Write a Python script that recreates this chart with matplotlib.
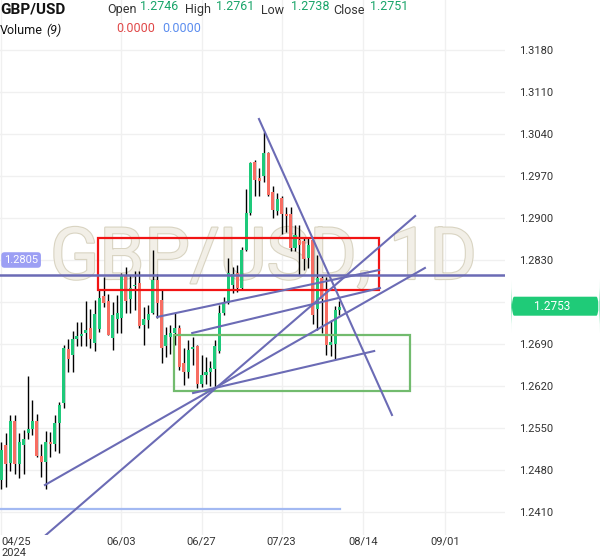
import matplotlib
matplotlib.use("Agg")
import matplotlib.pyplot as plt
import matplotlib.patheffects as pe
from matplotlib.patches import Rectangle, FancyBboxPatch

plt.rcParams['font.family'] = ['Roboto', 'DejaVu Sans']

# GBP/USD daily candles, 2024-04-25 .. 2024-08-09 (index = trading day)
opens = [1.2464, 1.2522, 1.2491, 1.2561, 1.2490, 1.2522, 1.2541, 1.2548, 1.2562, 1.2503,
         1.2494, 1.2526, 1.2524, 1.2559, 1.2592, 1.2681, 1.2671, 1.2699, 1.2704, 1.2708,
         1.2716, 1.2692, 1.2715, 1.2770, 1.2762, 1.2700, 1.2731, 1.2733, 1.2805, 1.2765,
         1.2786, 1.2791, 1.2722, 1.2730, 1.2741, 1.2797, 1.2763, 1.2686, 1.2701, 1.2708,
         1.2716, 1.2658, 1.2644, 1.2681, 1.2686, 1.2624, 1.2638, 1.2644, 1.2648, 1.2678,
         1.2741, 1.2759, 1.2788, 1.2809, 1.2783, 1.2847, 1.2909, 1.2994, 1.2967, 1.2970,
         1.3008, 1.2944, 1.2911, 1.2934, 1.2906, 1.2906, 1.2850, 1.2863, 1.2862, 1.2833,
         1.2863, 1.2748, 1.2800, 1.2780, 1.2688, 1.2690, 1.2746]
highs = [1.2527, 1.2541, 1.2572, 1.2572, 1.2541, 1.2547, 1.2637, 1.2597, 1.2574, 1.2524,
         1.2545, 1.2544, 1.2572, 1.2594, 1.2688, 1.2699, 1.2711, 1.2727, 1.2727, 1.2762,
         1.2749, 1.2763, 1.2781, 1.2802, 1.2774, 1.2760, 1.2772, 1.2809, 1.2818, 1.2805,
         1.2811, 1.2811, 1.2752, 1.2755, 1.2847, 1.2807, 1.2780, 1.2719, 1.2722, 1.2741,
         1.2722, 1.2683, 1.2697, 1.2701, 1.2688, 1.2672, 1.2669, 1.2662, 1.2697, 1.2755,
         1.2769, 1.2833, 1.2819, 1.2822, 1.2852, 1.2948, 1.2994, 1.2996, 1.2983, 1.3044,
         1.3010, 1.2953, 1.2942, 1.2936, 1.2918, 1.2918, 1.2888, 1.2888, 1.2866, 1.2866,
         1.2863, 1.2838, 1.2805, 1.2802, 1.2730, 1.2754, 1.2761]
lows = [1.2449, 1.2452, 1.2479, 1.2474, 1.2466, 1.2474, 1.2532, 1.2538, 1.2502, 1.2469,
        1.2448, 1.2502, 1.2511, 1.2509, 1.2583, 1.2644, 1.2644, 1.2686, 1.2687, 1.2686,
        1.2683, 1.2679, 1.2710, 1.2752, 1.2705, 1.2680, 1.2708, 1.2709, 1.2741, 1.2741,
        1.2747, 1.2716, 1.2689, 1.2716, 1.2740, 1.2733, 1.2658, 1.2669, 1.2674, 1.2688,
        1.2647, 1.2622, 1.2633, 1.2655, 1.2616, 1.2619, 1.2624, 1.2620, 1.2619, 1.2675,
        1.2738, 1.2757, 1.2775, 1.2777, 1.2780, 1.2845, 1.2905, 1.2936, 1.2937, 1.2960,
        1.2937, 1.2900, 1.2905, 1.2874, 1.2876, 1.2845, 1.2845, 1.2805, 1.2814, 1.2816,
        1.2724, 1.2713, 1.2708, 1.2672, 1.2670, 1.2665, 1.2738]
closes = [1.2514, 1.2490, 1.2561, 1.2490, 1.2527, 1.2532, 1.2548, 1.2562, 1.2503, 1.2494,
          1.2527, 1.2523, 1.2559, 1.2589, 1.2684, 1.2665, 1.2698, 1.2704, 1.2707, 1.2714,
          1.2698, 1.2740, 1.2766, 1.2759, 1.2705, 1.2738, 1.2741, 1.2805, 1.2762, 1.2784,
          1.2789, 1.2720, 1.2731, 1.2740, 1.2797, 1.2759, 1.2683, 1.2705, 1.2708, 1.2716,
          1.2652, 1.2644, 1.2680, 1.2685, 1.2624, 1.2638, 1.2644, 1.2650, 1.2686, 1.2741,
          1.2758, 1.2808, 1.2806, 1.2783, 1.2846, 1.2908, 1.2992, 1.2964, 1.2962, 1.3008,
          1.2938, 1.2914, 1.2932, 1.2906, 1.2903, 1.2850, 1.2872, 1.2855, 1.2831, 1.2855,
          1.2738, 1.2800, 1.2765, 1.2688, 1.2693, 1.2746, 1.2751]

x_tick_pos = [0, 27, 45, 63, 81.3, 99.7]
x_tick_labels = ['04/25\n2024', '06/03', '06/27', '07/23', '08/14', '09/01']
y_ticks = [1.2410, 1.2480, 1.2550, 1.2620, 1.2690, 1.2760, 1.2830,
           1.2900, 1.2970, 1.3040, 1.3110, 1.3180]

# drawings: (bar0, price0, bar1, price1)
trend_lines = [(57.9, 1.30650, 87.8, 1.25717),
               (8.7, 1.23633, 93.0, 1.29033),
               (9.8, 1.24550, 95.2, 1.28167),
               (35.0, 1.27350, 84.9, 1.28133),
               (42.9, 1.27083, 85.1, 1.27833),
               (43.1, 1.26083, 83.8, 1.26783)]
red_zone = (21.75, 84.9, 1.2780, 1.2867)
green_zone = (38.8, 91.9, 1.2612, 1.2705)
level_line = 1.2805
support_line = (0, 76.1, 1.2415)
last_price = 1.2753

UP = '#1ec97a'
DOWN = '#f76d62'
LINE = '#6b6bb5'

W, H = 600, 558
fig = plt.figure(figsize=(W / 100, H / 100), dpi=100)
ax = fig.add_axes([0, 23 / H, 505 / W, 535 / H])
ax.set_xlim(-0.3, 113.2)
ax.set_ylim(1.23717, 1.32633)

for s in ax.spines.values():
    s.set_visible(False)
ax.yaxis.tick_right()
ax.set_yticks(y_ticks)
ax.set_yticklabels(['%.4f' % v for v in y_ticks])
ax.set_xticks(x_tick_pos)
ax.set_xticklabels(x_tick_labels)
ax.tick_params(length=0, labelsize=8, colors='#333333')
ax.tick_params(axis='y', pad=10)
ax.tick_params(axis='x', pad=1)
ax.get_xticklabels()[0].set_horizontalalignment('left')
ax.grid(True, color='#f0f0f0', linewidth=1)
ax.set_axisbelow(True)

# watermark
ax.text(0.522, 0.515, 'GBP/USD, 1D', transform=ax.transAxes, ha='center', va='center',
        fontsize=52, color='#f2efe7', zorder=1,
        path_effects=[pe.withStroke(linewidth=1.6, foreground='#d9d4c2')])

# candles
idx = list(range(len(opens)))
ax.vlines(idx, lows, highs, color='black', linewidth=1, zorder=3)
bottoms = [min(o, c) for o, c in zip(opens, closes)]
heights = [max(abs(c - o), 0.00018) for o, c in zip(opens, closes)]
colors = [UP if c >= o else DOWN for o, c in zip(opens, closes)]
ax.bar(idx, heights, bottom=bottoms, width=0.68, color=colors, linewidth=0, zorder=4)

# zones
x0, x1, y0, y1 = red_zone
ax.add_patch(Rectangle((x0, y0), x1 - x0, y1 - y0, fill=False, edgecolor='#f21414',
                       linewidth=1.6, zorder=5))
x0, x1, y0, y1 = green_zone
ax.add_patch(Rectangle((x0, y0), x1 - x0, y1 - y0, fill=False, edgecolor='#72bb6e',
                       linewidth=1.6, zorder=5))

# lines
ax.axhline(level_line, color=LINE, linewidth=1.8, zorder=6)
ax.plot([support_line[0], support_line[1]], [support_line[2]] * 2, color='#a3b9f2',
        linewidth=1.6, zorder=2)
for b0, p0, b1, p1 in trend_lines:
    ax.plot([b0, b1], [p0, p1], color=LINE, linewidth=1.5, zorder=6)

# level label on the left
ax.text(0.008, level_line + 0.0025, '%.4f' % level_line, transform=ax.get_yaxis_transform(),
        ha='left', va='center', fontsize=8, color='white', zorder=8,
        bbox=dict(boxstyle='round,pad=0.25,rounding_size=0.3', facecolor='#9c9ff4',
                  edgecolor='none'))

# last price label on the right (hides the 1.2760 tick label like the original)
ax.get_yticklabels()[5].set_visible(False)
px = (ax.get_ylim()[1] - ax.get_ylim()[0]) / 535
ax.add_patch(FancyBboxPatch((1.012, last_price - 9.5 * px), 0.175, 19 * px,
                            boxstyle='round,pad=0,rounding_size=0.006',
                            transform=ax.get_yaxis_transform(), facecolor='#1fcb78',
                            edgecolor='none', clip_on=False, zorder=9))
ax.text(1.093, last_price, '%.4f' % last_price, transform=ax.get_yaxis_transform(),
        ha='center', va='center', fontsize=8.5, color='white', zorder=10, clip_on=False)

# header
def ftext(x, y, s, **kw):
    fig.text(x / W, 1 - y / H, s, va='center', ha='left', **kw)

ftext(0, 9, 'GBP/USD', fontsize=11, fontweight='bold', color='#131313')
header_items = [(107, 'Open', 140, '1.2746'), (185, 'High', 216, '1.2761'),
                (261, 'Low', 291, '1.2738'), (333, 'Close', 370, '1.2751')]
for lx, lab, vx, val in header_items:
    ftext(lx, 10, lab, fontsize=9, color='#333333')
    ftext(vx, 7, val, fontsize=9, color='#1aa56a')
ftext(0, 30, 'Volume', fontsize=9, color='#131313')
ftext(46, 30, '(9)', fontsize=9, color='#131313', style='italic')
ftext(116, 28, '0.0000', fontsize=9, color='#e04848')
ftext(162, 28, '0.0000', fontsize=9, color='#5b8def')

fig.savefig('out.png', dpi=100)
